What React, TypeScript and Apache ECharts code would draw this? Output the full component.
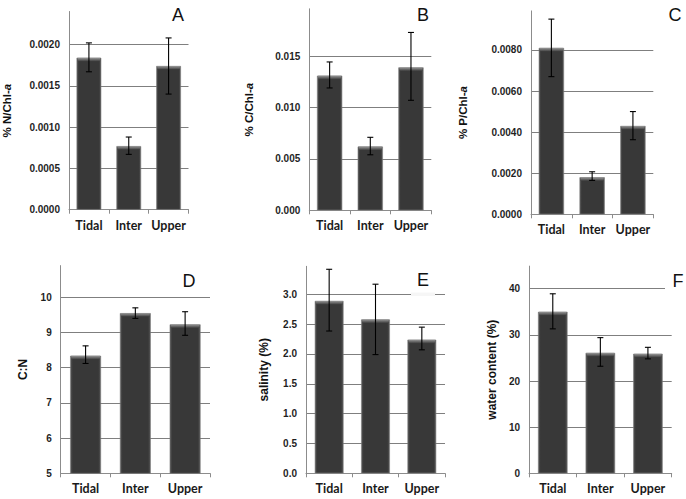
import React, { useEffect, useRef } from 'react';
import * as echarts from 'echarts';

const categories = ['Tidal', 'Inter', 'Upper'];

// A: % N/Chl-a
const nChlMean = [0.00184, 0.00077, 0.00174];
const nChlLow = [0.00167, 0.00067, 0.0014];
const nChlHigh = [0.00202, 0.00088, 0.00208];
// B: % C/Chl-a
const cChlMean = [0.0131, 0.0062, 0.0139];
const cChlLow = [0.0119, 0.0054, 0.0107];
const cChlHigh = [0.01443, 0.0071, 0.0173];
// C: % P/Chl-a
const pChlMean = [0.0081, 0.0018, 0.0043];
const pChlLow = [0.0067, 0.00165, 0.00363];
const pChlHigh = [0.0095, 0.00207, 0.005];
// D: C:N
const cnMean = [8.34, 9.55, 9.23];
const cnLow = [8.12, 9.4, 8.92];
const cnHigh = [8.62, 9.7, 9.59];
// E: salinity (%)
const salMean = [2.89, 2.58, 2.24];
const salLow = [2.385, 1.99, 2.07];
const salHigh = [3.42, 3.17, 2.45];
// F: water content (%)
const waterMean = [35.0, 26.1, 25.9];
const waterLow = [31.3, 23.2, 24.8];
const waterHigh = [38.9, 29.4, 27.3];

const panelLetters = ['A', 'B', 'C', 'D', 'E', 'F'];
const axisNames = ['% N/Chl-{i|a}', '% C/Chl-{i|a}', '% P/Chl-{i|a}', 'C:N', 'salinity (%)', 'water content (%)'];
const axisMins = [0, 0, 0, 5, 0, 0];
const axisMaxs = [0.0024, 0.0196, 0.0099, 10.9, 3.47, 44.9];
const axisIntervals = [0.0005, 0.005, 0.002, 1, 0.5, 10];
const labelDecimals = [4, 3, 4, 0, 1, 0];

const means = [nChlMean, cChlMean, pChlMean, cnMean, salMean, waterMean];
const lows = [nChlLow, cChlLow, pChlLow, cnLow, salLow, waterLow];
const highs = [nChlHigh, cChlHigh, pChlHigh, cnHigh, salHigh, waterHigh];

// layout (pixels)
const grids = [
  { left: 64.5, top: 11.5, width: 124, height: 198.2 },
  { left: 309.3, top: 8.8, width: 122, height: 201.5 },
  { left: 531, top: 10.9, width: 122.3, height: 203.4 },
  { left: 60.7, top: 265.6, width: 149.3, height: 207.7 },
  { left: 306, top: 266.3, width: 139, height: 207 },
  { left: 529, top: 266.1, width: 142.7, height: 207.2 },
];
const nameGaps = [56, 54, 62, 32, 36, 31];
const nameSizes = [11.5, 11.5, 11.5, 12, 12, 12];
const letterPos = [
  [178, 15], [423, 15], [675, 15],
  [189, 281], [423, 280], [678, 281],
];

const TICK_FONT = "'Liberation Sans', Arial, sans-serif";
const CAT_FONT = "Lato, 'Liberation Sans', sans-serif";
const BAR_FRAC = 0.62;

export default function App() {
  const ref = useRef<HTMLDivElement>(null);

  useEffect(() => {
    document.body.style.margin = '0';
    if (!ref.current) return;
    const chart = echarts.init(ref.current, undefined, { renderer: 'svg' });

    const xAxis: any[] = [];
    const yAxis: any[] = [];
    const series: any[] = [];
    const gridOpts: any[] = [];
    const graphic: any[] = [];

    grids.forEach((g, i) => {
      gridOpts.push({ ...g, containLabel: false });
      xAxis.push({
        type: 'category',
        gridIndex: i,
        data: categories,
        boundaryGap: true,
        axisLine: { show: true, lineStyle: { color: '#8c8c8c', width: 1 } },
        axisTick: { show: true, alignWithLabel: false, length: 4, lineStyle: { color: '#8c8c8c' } },
        axisLabel: {
          interval: 0,
          hideOverlap: false,
          fontFamily: CAT_FONT,
          fontSize: 12.5,
          fontWeight: 'bold',
          color: '#1a1a1a',
          margin: 9,
        },
        splitLine: { show: false },
      });
      const dec = labelDecimals[i];
      yAxis.push({
        type: 'value',
        gridIndex: i,
        min: axisMins[i],
        max: axisMaxs[i],
        interval: axisIntervals[i],
        name: axisNames[i],
        nameLocation: 'middle',
        nameGap: nameGaps[i],
        nameRotate: 90,
        nameTextStyle: {
          fontFamily: TICK_FONT,
          fontSize: nameSizes[i],
          fontWeight: 'bold',
          color: '#111',
          rich: {
            i: {
              fontFamily: TICK_FONT,
              fontSize: nameSizes[i],
              fontWeight: 'bold',
              fontStyle: 'italic',
              color: '#111',
            },
          },
        },
        axisLine: { show: true, lineStyle: { color: '#8c8c8c', width: 1 } },
        axisTick: { show: false },
        axisLabel: {
          fontFamily: TICK_FONT,
          fontSize: 10,
          fontWeight: 'bold',
          color: '#1f1f1f',
          margin: 9,
          showMaxLabel: false,
          formatter: (v: number) => v.toFixed(dec),
        },
        splitLine: {
          show: true,
          showMinLine: false,
          showMaxLine: false,
          lineStyle: { color: '#7f7f7f', width: 1 },
        },
      });
      series.push({
        type: 'bar',
        xAxisIndex: i,
        yAxisIndex: i,
        data: means[i],
        barCategoryGap: ((1 - BAR_FRAC) * 100).toFixed(0) + '%',
        itemStyle: {
          color: new echarts.graphic.LinearGradient(0, 0, 1, 0, [
            { offset: 0, color: '#555555' },
            { offset: 0.08, color: '#383838' },
            { offset: 0.92, color: '#383838' },
            { offset: 1, color: '#555555' },
          ]),
          borderColor: '#7a7a7a',
          borderWidth: 0.6,
        },
        z: 2,
      });
      series.push({
        type: 'custom',
        xAxisIndex: i,
        yAxisIndex: i,
        z: 5,
        data: categories.map((_, k) => [k, lows[i][k], highs[i][k], means[i][k]]),
        renderItem: (_params: any, api: any) => {
          const k = api.value(0);
          const lo = api.coord([k, api.value(1)]);
          const hi = api.coord([k, api.value(2)]);
          const top = api.coord([k, api.value(3)]);
          const bw = api.size([1, 0])[0] * BAR_FRAC;
          const cx = hi[0];
          const cap = 3;
          return {
            type: 'group',
            children: [
              {
                type: 'rect',
                shape: { x: cx - bw / 2 + 1, y: top[1], width: bw - 2, height: 3.5 },
                style: {
                  fill: new echarts.graphic.LinearGradient(0, 0, 0, 1, [
                    { offset: 0, color: '#9a9a9a' },
                    { offset: 1, color: '#404040' },
                  ]),
                },
              },
              { type: 'line', shape: { x1: cx, y1: hi[1], x2: cx, y2: lo[1] }, style: { stroke: '#000', lineWidth: 1.1 } },
              { type: 'line', shape: { x1: cx - cap, y1: hi[1], x2: cx + cap, y2: hi[1] }, style: { stroke: '#000', lineWidth: 1.1 } },
              { type: 'line', shape: { x1: cx - cap, y1: lo[1], x2: cx + cap, y2: lo[1] }, style: { stroke: '#000', lineWidth: 1.1 } },
            ],
          };
        },
      });
      graphic.push({
        type: 'text',
        x: letterPos[i][0],
        y: letterPos[i][1],
        z: 20,
        style: {
          text: panelLetters[i],
          fontFamily: "'Liberation Sans', Arial, sans-serif",
          fontSize: 18,
          fill: '#111',
          align: 'center',
          verticalAlign: 'middle',
        },
      });
    });

    // white label backgrounds cutting gridlines (as in the reference for E and F)
    graphic.push({
      type: 'rect',
      shape: { x: 411, y: 292.5, width: 24, height: 3.5 },
      style: { fill: '#f6f6f6' },
      z: 10,
    });
    graphic.push({
      type: 'rect',
      shape: { x: 665, y: 286, width: 8, height: 5 },
      style: { fill: '#ffffff' },
      z: 10,
    });

    chart.setOption({
      animation: false,
      backgroundColor: '#ffffff',
      grid: gridOpts,
      xAxis,
      yAxis,
      series,
      graphic,
    });

    return () => chart.dispose();
  }, []);

  return <div ref={ref} style={{ width: 686, height: 499 }} />;
}
